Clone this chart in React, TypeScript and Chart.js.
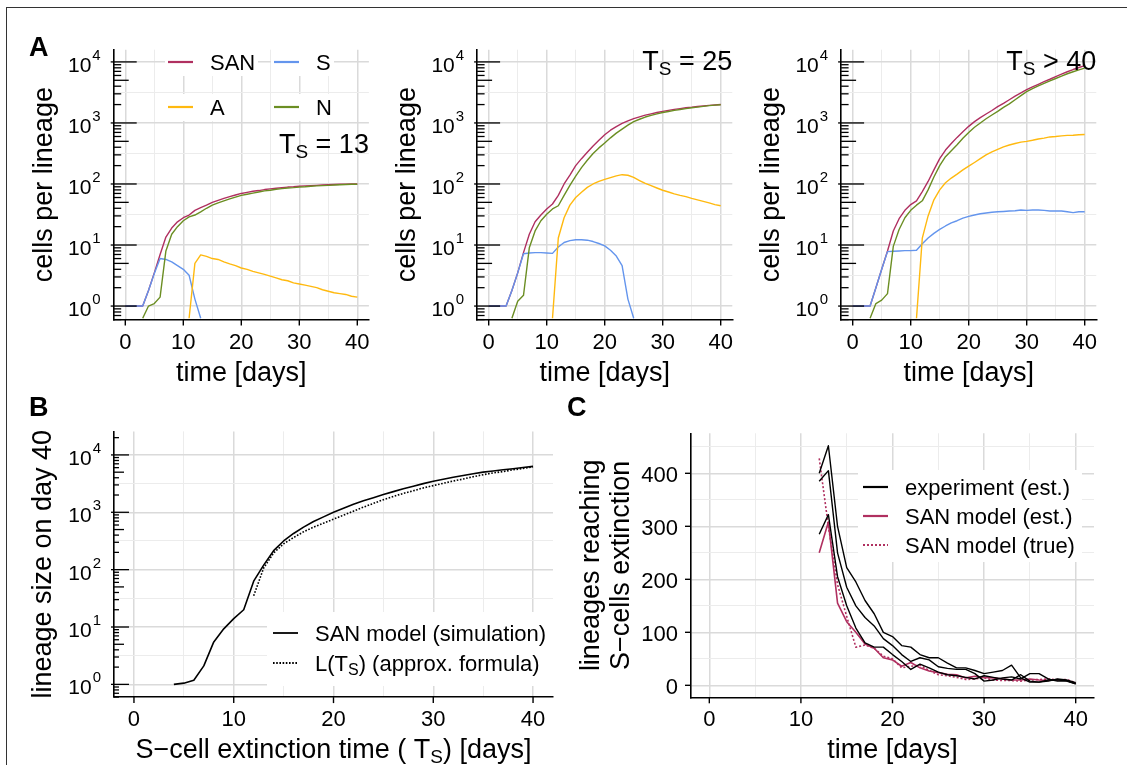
import React, { useEffect, useRef } from 'react';
import { Chart, registerables } from 'chart.js';

Chart.register(...registerables);

const W = 1127;
const H = 765;
const FONT = '"Liberation Sans", Arial, Helvetica, sans-serif';
const GRID_MAJOR = '#DADADA';
const GRID_MINOR = '#ECECEC';
const COL_SAN = '#B03060';
const COL_S = '#6495ED';
const COL_A = '#FFB90F';
const COL_N = '#6B8E23';

// ---------------- data: panel A (cells per lineage vs time) ----------------
const daysA = [0, 1, 2, 3, 4, 5, 6, 7, 8, 9, 10, 11, 12, 13, 14, 15, 16, 17, 18, 19, 20, 21, 22, 23, 24, 25, 26, 27, 28, 29, 30, 31, 32, 33, 34, 35, 36, 37, 38, 39, 40];

// T_S = 13
const ts13SAN = [1, 1, 1, 1, 1.8, 3.5, 7, 13.5, 19, 24, 28, 31, 37, 41, 45, 50, 54, 58, 62, 66, 70, 73, 76, 78, 81, 83, 85, 87, 89, 90, 92, 93, 94, 95, 96, 97, 98, 99, 99, 100, 100];
const ts13S = [1, 1, 1, 1, 1.8, 3.4, 6.0, 5.8, 5.3, 4.6, 4.0, 3.2, 1.3, 0, 0, 0, 0, 0, 0, 0, 0, 0, 0, 0, 0, 0, 0, 0, 0, 0, 0, 0, 0, 0, 0, 0, 0, 0, 0, 0, 0];
const ts13A = [0, 0, 0, 0, 0, 0, 0, 0, 0, 0, 0, 0, 5.0, 6.9, 6.5, 6.0, 5.8, 5.3, 4.9, 4.6, 4.2, 4.0, 3.7, 3.5, 3.3, 3.1, 2.9, 2.7, 2.6, 2.4, 2.3, 2.2, 2.1, 2.0, 1.85, 1.75, 1.65, 1.6, 1.55, 1.45, 1.4];
const ts13N = [0, 0, 0, 0, 1.0, 1.1, 1.4, 8, 15, 20, 25, 29, 31, 35, 40, 45, 49, 53, 57, 61, 65, 68, 71, 74, 77, 79, 82, 84, 86, 87, 89, 90, 92, 93, 94, 95, 96, 97, 98, 99, 99];

// T_S = 25
const ts25SAN = [1, 1, 1, 1, 1.8, 3.5, 7.5, 15, 24, 31, 39, 47, 65, 100, 140, 200, 260, 330, 420, 520, 640, 760, 870, 980, 1080, 1180, 1260, 1340, 1410, 1480, 1550, 1610, 1670, 1720, 1770, 1810, 1860, 1900, 1940, 1970, 2000];
const ts25S = [1, 1, 1, 1, 1.8, 3.5, 7.2, 7.4, 7.5, 7.5, 7.4, 7.3, 9.3, 11, 11.8, 12.2, 12.2, 12, 11.4, 10.6, 9.7, 8.2, 6.6, 4.6, 1.3, 0, 0, 0, 0, 0, 0, 0, 0, 0, 0, 0, 0, 0, 0, 0, 0];
const ts25A = [0, 0, 0, 0, 0, 0, 0, 0, 0, 0, 0, 0, 13, 28, 45, 60, 73, 88, 100, 110, 119, 127, 136, 142, 139, 128, 114, 102, 94, 86, 79, 74, 69, 65, 62, 58, 55, 52, 49, 46, 44];
const ts25N = [0, 0, 0, 0, 0, 1.2, 1.5, 9, 17, 25, 32, 39, 44, 65, 95, 135, 185, 245, 315, 390, 470, 570, 680, 790, 920, 1050, 1150, 1250, 1330, 1410, 1480, 1540, 1610, 1660, 1720, 1770, 1820, 1870, 1920, 1960, 1990];

// T_S > 40
const ts40SAN = [1, 1, 1, 1, 2, 4, 8, 17, 27, 37, 46, 53, 75, 110, 170, 260, 360, 460, 580, 720, 880, 1050, 1220, 1400, 1600, 1850, 2100, 2400, 2750, 3100, 3500, 3900, 4300, 4750, 5200, 5750, 6300, 6900, 7500, 8100, 8700];
const ts40S = [1, 1, 1, 1, 2, 4, 7.8, 7.9, 8.0, 8.1, 8.1, 8.2, 10.5, 13, 15.5, 18, 20.5, 23, 25, 27.5, 29.5, 31, 32.5, 33.5, 34.5, 35, 35.5, 36, 36.5, 37.5, 37, 37.5, 37.5, 37, 36, 36, 36, 35, 34, 35, 35];
const ts40A = [0, 0, 0, 0, 0, 0, 0, 0, 0, 0, 0, 0, 13, 30, 55, 80, 105, 125, 145, 170, 196, 225, 260, 300, 335, 370, 405, 435, 460, 485, 500, 520, 545, 565, 590, 600, 615, 625, 630, 640, 645];
const ts40N = [0, 0, 0, 0, 1.1, 1.25, 1.6, 9.5, 18, 28, 37, 45, 53, 80, 130, 200, 280, 350, 440, 560, 700, 850, 1000, 1170, 1350, 1550, 1800, 2050, 2400, 2800, 3250, 3650, 4050, 4450, 4900, 5350, 5850, 6400, 6900, 7400, 7900];

// ---------------- data: panel B (lineage size on day 40 vs T_S) ----------------
const tsSim = [4, 5, 6, 7, 8, 9, 10, 11, 12, 13, 14, 15, 16, 17, 18, 19, 20, 21, 22, 23, 24, 25, 26, 27, 28, 29, 30, 31, 32, 33, 34, 35, 36, 37, 38, 39, 40];
const sizeSim = [1.0, 1.05, 1.18, 2.1, 5.5, 9.3, 14, 20, 63, 120, 214, 316, 427, 550, 692, 832, 1000, 1175, 1380, 1585, 1800, 2040, 2290, 2570, 2850, 3160, 3470, 3760, 4070, 4370, 4680, 5010, 5250, 5500, 5750, 6030, 6310];
const tsApprox = [12, 13, 14, 15, 16, 17, 18, 19, 20, 21, 22, 23, 24, 25, 26, 27, 28, 29, 30, 31, 32, 33, 34, 35, 36, 37, 38, 39, 40];
const sizeApprox = [35, 107, 195, 282, 363, 457, 550, 646, 759, 891, 1047, 1230, 1429, 1660, 1884, 2138, 2371, 2661, 2917, 3199, 3508, 3802, 4169, 4519, 4842, 5129, 5495, 5821, 6166];

// ---------------- data: panel C (lineages reaching S-cell extinction) ----------------
const daysC = [12, 13, 14, 15, 16, 17, 18, 19, 20, 21, 22, 23, 24, 25, 26, 27, 28, 29, 30, 31, 32, 33, 34, 35, 36, 37, 38, 39, 40];
const exp1 = [400, 452, 300, 222, 195, 160, 135, 100, 92, 75, 72, 58, 52, 52, 42, 33, 33, 28, 22, 25, 28, 38, 14, 6, 6, 10, 10, 9, 3];
const exp2 = [385, 405, 250, 185, 150, 128, 112, 88, 75, 58, 45, 52, 48, 35, 32, 30, 30, 22, 8, 10, 14, 16, 12, 22, 22, 12, 8, 8, 3];
const exp3 = [285, 322, 205, 150, 108, 80, 72, 72, 58, 45, 30, 40, 33, 25, 20, 18, 15, 12, 18, 15, 12, 10, 20, 8, 6, 8, 12, 10, 5];
const sanEst = [250, 308, 155, 120, 100, 78, 70, 52, 48, 36, 43, 33, 27, 24, 21, 20, 14, 17, 15, 14, 12, 10, 10, 12, 10, 9, 11, 9, 4];
const sanTrue = [428, 300, 190, 130, 72, 76, 70, 55, 50, 33, 36, 38, 28, 20, 18, 15, 11, 12, 14, 10, 9, 9, 8, 10, 11, 12, 10, 11, 5];

// ---------------- axis ticks ----------------
const xTickLabels = [0, 10, 20, 30, 40];
const xGridValues = [0, 5, 10, 15, 20, 25, 30, 35, 40];
const logExponents = [0, 1, 2, 3, 4];
const logGridValues = [1, 3.1623, 10, 31.623, 100, 316.23, 1000, 3162.3, 10000];
const cTickLabels = [0, 100, 200, 300, 400];
const cGridValues = [0, 50, 100, 150, 200, 250, 300, 350, 400, 450];

type Area = { l: number; t: number; r: number; b: number };
type Spec = {
  area: Area;
  xMin: number;
  xMax: number;
  yLog: boolean;
  yMin: number;
  yMax: number;
  yGrid: number[];
  yMajor: (v: number) => boolean;
  datasets: any[];
  draw: (ctx: CanvasRenderingContext2D, chart: any) => void;
};

const isLogMajor = (v: number) => Math.abs(Math.log10(v) - Math.round(Math.log10(v))) < 1e-6;
const xMajor = (v: number) => v % 10 === 0;

// zero counts cannot be shown on a log axis: like ggplot's -Inf they are placed on the
// lower panel edge (only next to non-zero values, so no line runs along the axis)
function logPoints(xs: number[], ys: number[], floor: number) {
  return xs.map((x, i) => {
    const v = ys[i];
    if (v > 0) return { x, y: v };
    const near = (i > 0 && ys[i - 1] > 0) || (i < ys.length - 1 && ys[i + 1] > 0);
    return { x, y: near ? floor : null };
  });
}
function points(xs: number[], ys: number[]) {
  return xs.map((x, i) => ({ x, y: ys[i] }));
}

// ---------------- text helpers ----------------
type Run = { t: string; size: number; dy?: number; weight?: string };
function runsWidth(ctx: CanvasRenderingContext2D, runs: Run[]) {
  let w = 0;
  for (const r of runs) {
    ctx.font = `${r.weight || 'normal'} ${r.size}px ${FONT}`;
    w += ctx.measureText(r.t).width;
  }
  return w;
}
function drawRuns(ctx: CanvasRenderingContext2D, runs: Run[], x: number, y: number, align: 'left' | 'center' | 'right') {
  const w = runsWidth(ctx, runs);
  let cx = align === 'left' ? x : align === 'center' ? x - w / 2 : x - w;
  ctx.fillStyle = '#000';
  ctx.textAlign = 'left';
  ctx.textBaseline = 'alphabetic';
  for (const r of runs) {
    ctx.font = `${r.weight || 'normal'} ${r.size}px ${FONT}`;
    ctx.fillText(r.t, cx, y + (r.dy || 0));
    cx += ctx.measureText(r.t).width;
  }
}
function text(ctx: CanvasRenderingContext2D, s: string, x: number, y: number, size: number, align: 'left' | 'center' | 'right' = 'left', weight = 'normal') {
  drawRuns(ctx, [{ t: s, size, weight }], x, y, align);
}
function rotatedRuns(ctx: CanvasRenderingContext2D, runs: Run[], x: number, y: number) {
  ctx.save();
  ctx.translate(x, y);
  ctx.rotate(-Math.PI / 2);
  drawRuns(ctx, runs, 0, 0, 'center');
  ctx.restore();
}
function line(ctx: CanvasRenderingContext2D, x1: number, y1: number, x2: number, y2: number, color = '#000', width = 1.4, dash: number[] = []) {
  ctx.save();
  ctx.strokeStyle = color;
  ctx.lineWidth = width;
  ctx.setLineDash(dash);
  ctx.beginPath();
  ctx.moveTo(x1, y1);
  ctx.lineTo(x2, y2);
  ctx.stroke();
  ctx.restore();
}

function drawPow(ctx: CanvasRenderingContext2D, k: number, xr: number, y: number) {
  ctx.font = `15px ${FONT}`;
  const ew = ctx.measureText(String(k)).width;
  ctx.font = `21px ${FONT}`;
  const bw = ctx.measureText('10').width;
  const x0 = xr - ew - bw - 1;
  text(ctx, '10', x0, y + 10, 21);
  text(ctx, String(k), x0 + bw + 1, y - 2, 15);
}

function drawXAxis(ctx: CanvasRenderingContext2D, chart: any, area: Area, title: Run[]) {
  const xs = chart.scales.x;
  for (const v of xTickLabels) {
    const x = xs.getPixelForValue(v);
    line(ctx, x, area.b, x, area.b + 6, '#000', 1.4);
    text(ctx, String(v), x, area.b + 29, 22, 'center');
  }
  drawRuns(ctx, title, (area.l + area.r) / 2, area.b + 61, 'center');
}

function drawLogY(ctx: CanvasRenderingContext2D, chart: any, area: Area, lens: number[], gap: number) {
  const ys = chart.scales.y;
  for (let e = -1; e <= 4; e++) {
    for (let m = 1; m <= 9; m++) {
      const v = m * Math.pow(10, e);
      if (v < ys.min || v > ys.max) continue;
      const y = ys.getPixelForValue(v);
      const len = m === 1 ? lens[0] : m === 5 ? lens[1] : lens[2];
      line(ctx, area.l - (m === 1 ? 3 : 0), y, area.l + len, y, '#000', 1.3);
    }
  }
  for (const k of logExponents) drawPow(ctx, k, area.l - gap, ys.getPixelForValue(Math.pow(10, k)));
}

function legendItem(ctx: CanvasRenderingContext2D, x: number, y: number, color: string, label: Run[], dash: number[] = [], lw = 2.2) {
  line(ctx, x, y, x + 25, y, color, lw, dash);
  drawRuns(ctx, label, x + 42, y + 8, 'left');
}

// ---------------- panel A specs ----------------
const A_AREAS: Area[] = [
  { l: 113.7, t: 49.7, r: 368.9, b: 319.6 },
  { l: 477.1, t: 49.7, r: 732.3, b: 319.6 },
  { l: 841.1, t: 49.7, r: 1096.3, b: 319.6 },
];
const A_YMIN = Math.pow(10, -0.2);
const A_YMAX = Math.pow(10, 4.2);

function aDatasets(san: number[], s: number[], a: number[], n: number[]) {
  const common = { borderWidth: 1.4, pointRadius: 0, fill: false, spanGaps: false };
  return [
    { ...common, label: 'N', data: logPoints(daysA, n, A_YMIN), borderColor: COL_N, order: 0 },
    { ...common, label: 'A', data: logPoints(daysA, a, A_YMIN), borderColor: COL_A, order: 1 },
    { ...common, label: 'S', data: logPoints(daysA, s, A_YMIN), borderColor: COL_S, order: 2 },
    { ...common, label: 'SAN', data: logPoints(daysA, san, A_YMIN), borderColor: COL_SAN, order: 3 },
  ];
}

function aSpec(idx: number, san: number[], s: number[], a: number[], n: number[], tsLabel: Run[], tsBaseline: number, withLegend: boolean): Spec {
  const area = A_AREAS[idx];
  return {
    area,
    xMin: -2,
    xMax: 42,
    yLog: true,
    yMin: A_YMIN,
    yMax: A_YMAX,
    yGrid: logGridValues,
    yMajor: isLogMajor,
    datasets: aDatasets(san, s, a, n),
    draw: (ctx, chart) => {
      if (withLegend) {
        ctx.fillStyle = '#fff';
        ctx.fillRect(165, 49, 93, 27);
        ctx.fillRect(271, 49, 63, 27);
        ctx.fillRect(165, 94, 63, 27);
        ctx.fillRect(271, 94, 66, 27);
        legendItem(ctx, 168, 62, COL_SAN, [{ t: 'SAN', size: 22 }]);
        legendItem(ctx, 274, 62, COL_S, [{ t: 'S', size: 22 }]);
        legendItem(ctx, 168, 107, COL_A, [{ t: 'A', size: 22 }]);
        legendItem(ctx, 274, 107, COL_N, [{ t: 'N', size: 22 }]);
        text(ctx, 'A', 29, 56, 27, 'left', 'bold');
      }
      drawLogY(ctx, chart, area, [23, 15, 7.5], 13);
      drawXAxis(ctx, chart, area, [{ t: 'time [days]', size: 27 }]);
      rotatedRuns(ctx, [{ t: 'cells per lineage', size: 27 }], area.l - 62, (area.t + area.b) / 2);
      drawRuns(ctx, tsLabel, area.r, tsBaseline, 'right');
    },
  };
}

const tsRuns = (rest: string): Run[] => [
  { t: 'T', size: 27 },
  { t: 'S', size: 19, dy: 5 },
  { t: rest, size: 27 },
];

const specA1 = aSpec(0, ts13SAN, ts13S, ts13A, ts13N, tsRuns(' = 13'), 153, true);
const specA2 = aSpec(1, ts25SAN, ts25S, ts25A, ts25N, tsRuns(' = 25'), 70, false);
const specA3 = aSpec(2, ts40SAN, ts40S, ts40A, ts40N, tsRuns(' > 40'), 70, false);

// ---------------- panel B spec ----------------
const areaB: Area = { l: 114, t: 431.4, r: 553, b: 697.1 };
const specB: Spec = {
  area: areaB,
  xMin: -2,
  xMax: 42,
  yLog: true,
  yMin: Math.pow(10, -0.21),
  yMax: Math.pow(10, 4.41),
  yGrid: logGridValues,
  yMajor: isLogMajor,
  datasets: [
    { label: 'SAN model (simulation)', data: points(tsSim, sizeSim), borderColor: '#000', borderWidth: 1.6, pointRadius: 0, order: 0 },
    { label: 'L(T_S) (approx. formula)', data: points(tsApprox, sizeApprox), borderColor: '#000', borderWidth: 1.6, borderDash: [1.6, 1.6], pointRadius: 0, order: 1 },
  ],
  draw: (ctx, chart) => {
    ctx.fillStyle = '#fff';
    ctx.fillRect(267, 612, areaB.r - 267, 74);
    legendItem(ctx, 273, 633, '#000', [{ t: 'SAN model (simulation)', size: 22 }], [], 1.8);
    legendItem(ctx, 273, 663, '#000', [{ t: 'L(T', size: 22 }, { t: 'S', size: 16, dy: 4 }, { t: ') (approx. formula)', size: 22 }], [1.6, 1.6], 1.8);
    drawLogY(ctx, chart, areaB, [15, 10, 5], 13);
    drawXAxis(ctx, chart, areaB, [
      { t: 'S\u2212cell extinction time ( T', size: 27 },
      { t: 'S', size: 19, dy: 5 },
      { t: ') [days]', size: 27 },
    ]);
    rotatedRuns(ctx, [{ t: 'lineage size on day 40', size: 27 }], areaB.l - 63, (areaB.t + areaB.b) / 2);
    text(ctx, 'B', 29, 416, 27, 'left', 'bold');
  },
};

// ---------------- panel C spec ----------------
const areaC: Area = { l: 691, t: 433.3, r: 1094, b: 697.3 };
const specC: Spec = {
  area: areaC,
  xMin: -2,
  xMax: 42,
  yLog: false,
  yMin: -22.6,
  yMax: 475.5,
  yGrid: cGridValues,
  yMajor: (v) => v % 100 === 0,
  datasets: [
    { label: 'SAN model (true)', data: points(daysC, sanTrue), borderColor: COL_SAN, borderWidth: 1.6, borderDash: [2, 2], pointRadius: 0, order: 4 },
    { label: 'SAN model (est.)', data: points(daysC, sanEst), borderColor: COL_SAN, borderWidth: 1.6, pointRadius: 0, order: 3 },
    { label: 'experiment 1', data: points(daysC, exp1), borderColor: '#000', borderWidth: 1.4, pointRadius: 0, order: 0 },
    { label: 'experiment 2', data: points(daysC, exp2), borderColor: '#000', borderWidth: 1.4, pointRadius: 0, order: 1 },
    { label: 'experiment 3', data: points(daysC, exp3), borderColor: '#000', borderWidth: 1.4, pointRadius: 0, order: 2 },
  ],
  draw: (ctx, chart) => {
    const ys = chart.scales.y;
    ctx.fillStyle = '#fff';
    ctx.fillRect(858, 470, 224, 92);
    legendItem(ctx, 863, 487, '#000', [{ t: 'experiment (est.)', size: 22 }]);
    legendItem(ctx, 863, 516, COL_SAN, [{ t: 'SAN model (est.)', size: 22 }]);
    legendItem(ctx, 863, 545, COL_SAN, [{ t: 'SAN model (true)', size: 22 }], [2, 2]);
    for (const v of cTickLabels) {
      const y = ys.getPixelForValue(v);
      line(ctx, areaC.l - 6, y, areaC.l, y, '#000', 1.4);
      text(ctx, String(v), areaC.l - 13, y + 8.5, 22, 'right');
    }
    drawXAxis(ctx, chart, areaC, [{ t: 'time [days]', size: 27 }]);
    const cy = (areaC.t + areaC.b) / 2;
    rotatedRuns(ctx, [{ t: 'lineages reaching', size: 27 }], areaC.l - 92, cy);
    rotatedRuns(ctx, [{ t: 'S\u2212cells extinction', size: 27 }], areaC.l - 62, cy);
    text(ctx, 'C', 567, 416, 27, 'left', 'bold');
  },
};

// ---------------- chart builder ----------------
function buildChart(canvas: HTMLCanvasElement, spec: Spec): Chart {
  const { area } = spec;
  const config: any = {
    type: 'line',
    data: { datasets: spec.datasets },
    options: {
      animation: false,
      responsive: false,
      devicePixelRatio: 1,
      events: [],
      layout: { padding: { left: area.l, top: area.t, right: W - area.r, bottom: H - area.b } },
      plugins: { legend: { display: false }, tooltip: { enabled: false }, title: { display: false } },
      elements: { point: { radius: 0, hoverRadius: 0 }, line: { tension: 0, borderJoinStyle: 'round' } },
      scales: {
        x: {
          type: 'linear',
          min: spec.xMin,
          max: spec.xMax,
          afterFit: (s: any) => {
            s.height = 0;
          },
          afterBuildTicks: (s: any) => {
            s.ticks = xGridValues.map((v) => ({ value: v }));
          },
          ticks: { display: false },
          grid: {
            drawTicks: false,
            color: (c: any) => (c.tick && xMajor(c.tick.value) ? GRID_MAJOR : GRID_MINOR),
            lineWidth: (c: any) => (c.tick && xMajor(c.tick.value) ? 1.5 : 1),
          },
          border: { display: true, color: '#000', width: 1.6 },
        },
        y: {
          type: spec.yLog ? 'logarithmic' : 'linear',
          min: spec.yMin,
          max: spec.yMax,
          afterFit: (s: any) => {
            s.width = 0;
          },
          afterBuildTicks: (s: any) => {
            s.ticks = spec.yGrid.filter((v) => v >= spec.yMin && v <= spec.yMax).map((v) => ({ value: v }));
          },
          ticks: { display: false },
          grid: {
            drawTicks: false,
            color: (c: any) => (c.tick && spec.yMajor(c.tick.value) ? GRID_MAJOR : GRID_MINOR),
            lineWidth: (c: any) => (c.tick && spec.yMajor(c.tick.value) ? 1.5 : 1),
          },
          border: { display: true, color: '#000', width: 1.6 },
        },
      },
    },
    plugins: [
      {
        id: 'overlay',
        afterDatasetsDraw: (chart: any) => {
          const ctx = chart.ctx as CanvasRenderingContext2D;
          ctx.save();
          spec.draw(ctx, chart);
          ctx.restore();
        },
      },
    ],
  };
  return new Chart(canvas, config);
}

function ChartCanvas({ spec }: { spec: Spec }) {
  const ref = useRef<HTMLCanvasElement | null>(null);
  useEffect(() => {
    if (!ref.current) return;
    const chart = buildChart(ref.current, spec);
    return () => chart.destroy();
  }, [spec]);
  return <canvas ref={ref} width={W} height={H} style={{ position: 'absolute', left: 0, top: 0, width: W, height: H }} />;
}

const specs = [specA1, specA2, specA3, specB, specC];

export default function App() {
  return (
    <div style={{ position: 'absolute', left: 0, top: 0, width: W, height: H, overflow: 'hidden', background: '#fff' }}>
      <div
        style={{
          position: 'absolute',
          left: 6,
          top: 7,
          width: W + 20,
          height: H + 20,
          borderLeft: '1px solid #333',
          borderTop: '1px solid #333',
        }}
      />
      {specs.map((s, i) => (
        <ChartCanvas key={i} spec={s} />
      ))}
    </div>
  );
}
